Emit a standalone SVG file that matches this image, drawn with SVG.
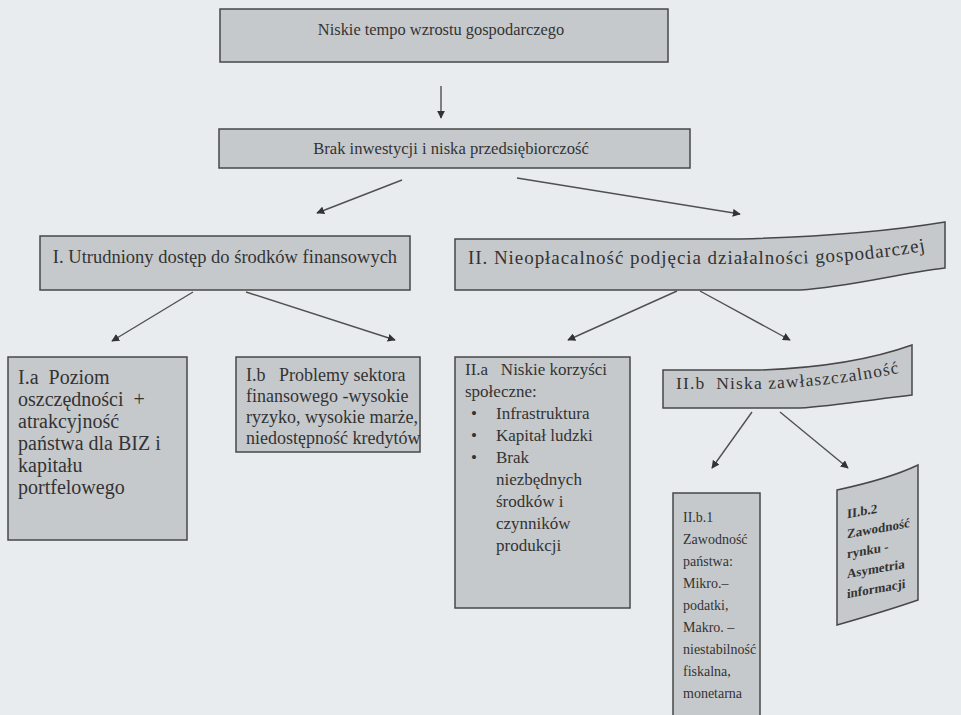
<svg xmlns="http://www.w3.org/2000/svg" width="961" height="715" viewBox="0 0 961 715">
<style>
.bg{fill:#e9ecef}
.box{fill:#c6c9cc;stroke:#474747;stroke-width:1.5}
.t{font-family:"Liberation Serif","Times New Roman",serif;fill:#333}
.c{stroke:#505050;stroke-width:1.4;fill:none;marker-end:url(#ah)}
.b{font-weight:bold}
</style>
<defs>
<marker id="ah" viewBox="0 0 10 10" refX="9" refY="5" markerWidth="8" markerHeight="8" markerUnits="userSpaceOnUse" orient="auto">
<path d="M0,0 L10,5 L0,10 Z" fill="#333"/>
</marker>
<path id="p2" d="M468,264 L790,264 C850,262 895,257 935,249"/>
<path id="pb" d="M676,389 L760,389 C820,387 865,380 905,372"/>
</defs>
<rect class="bg" x="0" y="0" width="961" height="715"/>
<g id="connectors">
<line class="c" x1="441" y1="86" x2="441" y2="118"/>
<line class="c" x1="402" y1="180" x2="317" y2="213"/>
<line class="c" x1="517" y1="178" x2="740" y2="214"/>
<line class="c" x1="193" y1="292" x2="112" y2="341"/>
<line class="c" x1="246" y1="292" x2="395" y2="340"/>
<line class="c" x1="677" y1="291" x2="568" y2="340"/>
<line class="c" x1="700" y1="291" x2="790" y2="340"/>
<line class="c" x1="752" y1="412" x2="712" y2="468"/>
<line class="c" x1="780" y1="412" x2="848" y2="468"/>
</g>
<g id="n0">
<rect class="box" x="220" y="9" width="448" height="53"/>
<text class="t" x="441" y="35" font-size="16.4" text-anchor="middle">Niskie tempo wzrostu gospodarczego</text>
</g>
<g id="n1">
<rect class="box" x="219" y="129" width="471" height="39"/>
<text class="t" x="451" y="154" font-size="16.6" text-anchor="middle">Brak inwestycji i niska przedsiębiorczość</text>
</g>
<g id="nI">
<rect class="box" x="40" y="236" width="370" height="54"/>
<text class="t" x="225" y="263" font-size="18.5" text-anchor="middle">I. Utrudniony dostęp do środków finansowych</text>
</g>
<g id="nII">
<path class="box" d="M455,239 L740,239 C820,237 890,231 945,222 L945,268 C895,274 850,287 800,290 L455,290 Z"/>
<text class="t" font-size="19"><textPath href="#p2" textLength="458" lengthAdjust="spacing">II. Nieopłacalność podjęcia działalności gospodarczej</textPath></text>
</g>
<g id="nIa">
<rect class="box" x="8" y="357" width="179" height="183"/>
<text class="t" font-size="20">
<tspan x="18" y="384">I.a&#160;&#160;Poziom</tspan>
<tspan x="18" y="406">oszczędności&#160;&#160;+</tspan>
<tspan x="18" y="428">atrakcyjność</tspan>
<tspan x="18" y="450">państwa dla BIZ i</tspan>
<tspan x="18" y="472">kapitału</tspan>
<tspan x="18" y="494">portfelowego</tspan>
</text>
</g>
<g id="nIb">
<rect class="box" x="236" y="357" width="184" height="95"/>
<text class="t" font-size="18">
<tspan x="246" y="381">I.b&#160;&#160;&#160;Problemy sektora</tspan>
<tspan x="246" y="402">finansowego -wysokie</tspan>
<tspan x="246" y="423">ryzyko, wysokie marże,</tspan>
<tspan x="246" y="444">niedostępność kredytów</tspan>
</text>
</g>
<g id="nIIa">
<rect class="box" x="455" y="357" width="175" height="251"/>
<text class="t" font-size="17">
<tspan x="465" y="375">II.a&#160;&#160;&#160;Niskie korzyści</tspan>
<tspan x="465" y="397">społeczne:</tspan>
<tspan x="471" y="419">•</tspan><tspan x="496" y="419">Infrastruktura</tspan>
<tspan x="471" y="441">•</tspan><tspan x="496" y="441">Kapitał ludzki</tspan>
<tspan x="471" y="463">•</tspan><tspan x="496" y="463">Brak</tspan>
<tspan x="496" y="485">niezbędnych</tspan>
<tspan x="496" y="507">środków i</tspan>
<tspan x="496" y="529">czynników</tspan>
<tspan x="496" y="551">produkcji</tspan>
</text>
</g>
<g id="nIIb">
<path class="box" d="M663,370 L760,370 C820,368 870,360 912,345 L912,395 C870,400 830,406 800,408 L663,408 Z"/>
<text class="t" font-size="17.5"><textPath href="#pb" textLength="224" lengthAdjust="spacing">II.b&#160;&#160;Niska zawłaszczalność</textPath></text>
</g>
<g id="nIIb1">
<rect class="box" x="673" y="493" width="87" height="230"/>
<text class="t" font-size="14">
<tspan x="683" y="522">II.b.1</tspan>
<tspan x="683" y="544">Zawodność</tspan>
<tspan x="683" y="566">państwa:</tspan>
<tspan x="683" y="588">Mikro.–</tspan>
<tspan x="683" y="610">podatki,</tspan>
<tspan x="683" y="632">Makro. –</tspan>
<tspan x="683" y="654">niestabilność</tspan>
<tspan x="683" y="676">fiskalna,</tspan>
<tspan x="683" y="698">monetarna</tspan>
</text>
</g>
<g id="nIIb2">
<path class="box" d="M837,490 C865,484 895,476 918,465 L918,600 C895,608 865,617 837,625 Z"/>
<g transform="translate(848 0) skewY(-10) translate(-848 0)">
<text class="t b" font-size="13">
<tspan x="847" y="518">II.b.2</tspan>
<tspan x="847" y="538">Zawodność</tspan>
<tspan x="847" y="558">rynku -</tspan>
<tspan x="847" y="578">Asymetria</tspan>
<tspan x="847" y="598">informacji</tspan>
</text>
</g>
</g>
</svg>
